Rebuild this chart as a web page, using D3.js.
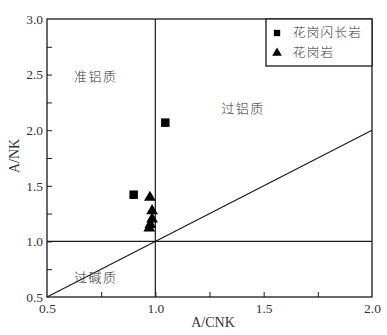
<!DOCTYPE html>
<html>
<head>
<meta charset="utf-8">
<style>
  body { margin: 0; background: #fff; }
  svg { font-family: "Liberation Serif", "DejaVu Serif", serif; }
  .cn { font-family: "Noto Sans CJK SC", sans-serif; font-weight: 300; }
</style>
</head>
<body>
<svg width="387" height="335"></svg>
<script src="https://d3js.org/d3.v7.min.js"></script>
<script>
// data
var granodiorite = [[1.046, 2.068], [0.90, 1.42]];
var granite = [[0.975, 1.395], [0.985, 1.275], [0.985, 1.20], [0.977, 1.152], [0.972, 1.12]];
var xTicks = [0.5, 1.0, 1.5, 2.0];
var yTicks = [0.5, 1.0, 1.5, 2.0, 2.5, 3.0];
var legendNames = ["花岗闪长岩", "花岗岩"];

var svg = d3.select("svg");
var plotL = 47, plotR = 372, plotT = 19, plotB = 297;

var x = d3.scaleLinear().domain([0.5, 2.0]).range([plotL, plotR]);
var y = d3.scaleLinear().domain([0.5, 3.0]).range([plotB, plotT]);

var ink = "#1a1a1a";

// frame
svg.append("rect")
    .attr("x", plotL).attr("y", plotT)
    .attr("width", plotR - plotL).attr("height", plotB - plotT)
    .attr("fill", "none").attr("stroke", ink).attr("stroke-width", 1.3);

// axes, ticks inward
var xAxis = svg.append("g").attr("transform", "translate(0," + plotB + ")")
    .call(d3.axisBottom(x).tickValues(d3.range(0.5, 2.01, 0.25)).tickSize(-5).tickPadding(6)
        .tickFormat(function(d) { return xTicks.indexOf(d) >= 0 ? d3.format(".1f")(d) : ""; }));
var yAxis = svg.append("g").attr("transform", "translate(" + plotL + ",0)")
    .call(d3.axisLeft(y).tickValues(d3.range(0.5, 3.01, 0.25)).tickSize(-5).tickPadding(4)
        .tickFormat(function(d) { return yTicks.indexOf(d) >= 0 ? d3.format(".1f")(d) : ""; }));
[xAxis, yAxis].forEach(function(g) {
    g.select(".domain").remove();
    g.selectAll("line").attr("stroke", ink);
    g.selectAll("text").attr("fill", "#333").attr("font-size", 13.5)
        .attr("font-family", "Liberation Serif, serif");
});
xAxis.selectAll("line").each(function(d) {
    if (d === 0.5 || d === 2.0) d3.select(this).remove();
});
yAxis.selectAll("line").each(function(d) {
    if (d === 0.5 || d === 3.0) d3.select(this).remove();
});

// reference lines
svg.append("line").attr("x1", x(1)).attr("x2", x(1)).attr("y1", y(0.5)).attr("y2", y(3))
    .attr("stroke", ink).attr("stroke-width", 1.2);
svg.append("line").attr("x1", x(0.5)).attr("x2", x(2)).attr("y1", y(1)).attr("y2", y(1))
    .attr("stroke", ink).attr("stroke-width", 1.2);
svg.append("line").attr("x1", x(0.5)).attr("x2", x(2)).attr("y1", y(0.5)).attr("y2", y(2))
    .attr("stroke", ink).attr("stroke-width", 1.2);

// region labels
var regions = [["准铝质", 0.725, 2.48], ["过铝质", 1.405, 2.2], ["过碱质", 0.725, 0.68]];
svg.selectAll(".region").data(regions).enter().append("text")
    .attr("class", "cn")
    .attr("x", function(d) { return x(d[1]); })
    .attr("y", function(d) { return y(d[2]); })
    .attr("text-anchor", "middle").attr("dy", "0.35em")
    .attr("font-size", 13).attr("letter-spacing", 1.5).attr("fill", "#333")
    .text(function(d) { return d[0]; });

// markers
var sq = d3.symbol().type(d3.symbolSquare).size(72);
var tri = d3.symbol().type(d3.symbolTriangle).size(60);
svg.selectAll(".sq").data(granodiorite).enter().append("path")
    .attr("d", sq)
    .attr("transform", function(d) { return "translate(" + x(d[0]) + "," + y(d[1]) + ")"; })
    .attr("fill", "#000");
svg.selectAll(".tri").data(granite).enter().append("path")
    .attr("d", tri)
    .attr("transform", function(d) { return "translate(" + x(d[0]) + "," + y(d[1]) + ")"; })
    .attr("fill", "#000");

// legend
var lg = svg.append("g");
lg.append("rect").attr("x", 266).attr("y", plotT).attr("width", plotR - 266).attr("height", 47)
    .attr("fill", "#fff").attr("stroke", ink).attr("stroke-width", 1.3);
lg.append("path").attr("d", d3.symbol().type(d3.symbolSquare).size(40))
    .attr("transform", "translate(277,33)").attr("fill", "#000");
lg.append("path").attr("d", d3.symbol().type(d3.symbolTriangle).size(40))
    .attr("transform", "translate(277,53)").attr("fill", "#000");
lg.selectAll("text").data(legendNames).enter().append("text")
    .attr("class", "cn")
    .attr("x", 293).attr("y", function(d, i) { return 33 + i * 20; })
    .attr("dy", "0.35em").attr("font-size", 12.5).attr("letter-spacing", 1.3).attr("fill", "#333")
    .text(function(d) { return d; });

// axis titles
svg.append("text").attr("x", 213).attr("y", 327).attr("text-anchor", "middle")
    .attr("font-size", 14).attr("fill", "#333").text("A/CNK");
svg.append("text").attr("transform", "translate(19,156) rotate(-90)").attr("text-anchor", "middle")
    .attr("font-size", 14).attr("fill", "#333").text("A/NK");
</script>
</body>
</html>
